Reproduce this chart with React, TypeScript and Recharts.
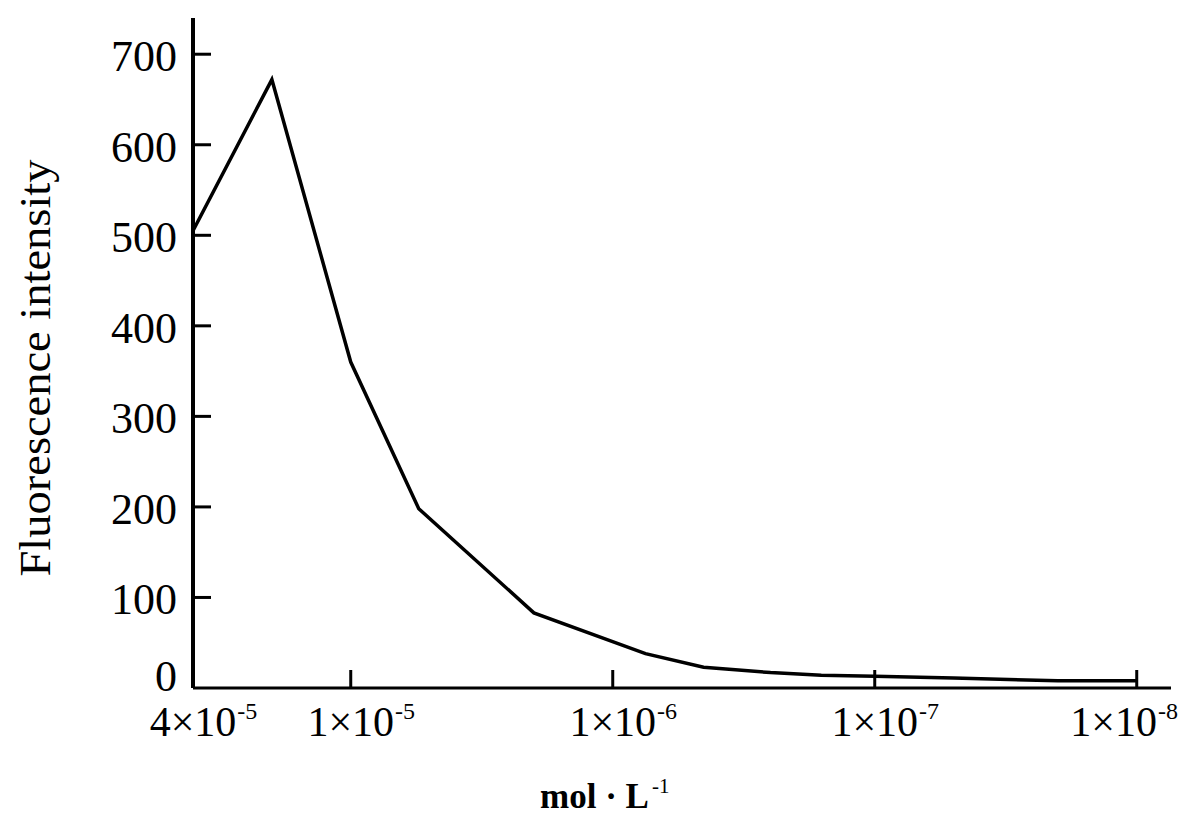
import { LineChart, Line, XAxis, YAxis } from "recharts"

// concentration in mol/L, plotted on a reversed log axis
const concentrations = [4e-5, 2e-5, 1e-5, 5.5e-6, 2e-6, 7.5e-7, 4.5e-7, 2.5e-7, 1.6e-7, 1e-7, 5e-8, 2e-8, 1e-8]
const intensities = [505, 672, 360, 198, 83, 38, 23, 17, 14, 13, 11, 8, 8]

const xTicks = [4e-5, 1e-5, 1e-6, 1e-7, 1e-8]
const yTicks = [0, 100, 200, 300, 400, 500, 600, 700]

const data = concentrations.map((c, i) => ({ c, v: intensities[i] }))

const FONT = '"Liberation Serif", "DejaVu Serif", "Times New Roman", serif'
const CHART_W = 1189

function XTick(props: any) {
  const { y, payload } = props
  const v = payload.value
  const exp = Math.floor(Math.log10(v) + 1e-9)
  const mant = Math.round(v / Math.pow(10, exp))
  const size = 42
  const half = (size * 2.064) / 2
  const supW = 26
  // keep the last label inside the picture
  const overflow = Math.max(0, props.x + half + supW - (CHART_W - 6))
  const x = props.x - overflow
  return (
    <g>
      <line x1={props.x} x2={props.x} y1={y} y2={y - 18} stroke="#000" strokeWidth={3} />
      <text x={x} y={y + 48} textAnchor="middle" fontSize={size} fontFamily={FONT} fill="#000">
        {mant}×10
      </text>
      <text x={x + half + 1} y={y + 31} textAnchor="start" fontSize={24} fontFamily={FONT} fill="#000">
        -{Math.abs(exp)}
      </text>
    </g>
  )
}

function YTick(props: any) {
  const { x, y, payload } = props
  const isZero = payload.value === 0
  return (
    <g>
      {!isZero && <line x1={x} x2={x + 18} y1={y} y2={y} stroke="#000" strokeWidth={3} />}
      <text
        x={x - 16}
        y={y + (isZero ? 3 : 17)}
        textAnchor="end"
        fontSize={44}
        fontFamily={FONT}
        fill="#000"
      >
        {payload.value}
      </text>
    </g>
  )
}

export default function App() {
  return (
    <div style={{ position: "absolute", left: 0, top: 0, width: CHART_W, height: 820, background: "#fff" }}>
      <LineChart
        width={CHART_W}
        height={820}
        data={data}
        margin={{ top: 18, right: 18, left: 93, bottom: 72 }}
      >
        <XAxis
          dataKey="c"
          type="number"
          scale="log"
          domain={[7.4e-9, 4e-5]}
          reversed
          allowDataOverflow
          ticks={xTicks}
          tick={<XTick />}
          tickLine={false}
          tickSize={0}
          tickMargin={0}
          height={60}
          interval={0}
          axisLine={{ stroke: "#000", strokeWidth: 3 }}
          label={{
            content: () => (
              <text x={540} y={808} fontSize={35} fontFamily={FONT} fontWeight="bold" fill="#000">
                mol · L
                <tspan dx={3} dy={-15} fontSize={21} fontWeight="normal">-1</tspan>
              </text>
            ),
          }}
        />
        <YAxis
          type="number"
          domain={[0, 740]}
          ticks={yTicks}
          tick={<YTick />}
          tickLine={false}
          tickSize={0}
          tickMargin={0}
          width={100}
          interval={0}
          axisLine={{ stroke: "#000", strokeWidth: 4 }}
          label={{
            content: () => (
              <text
                x={0}
                y={0}
                transform="translate(50 368) rotate(-90)"
                textAnchor="middle"
                fontSize={44}
                fontFamily={FONT}
                fill="#000"
                textLength={417}
                lengthAdjust="spacingAndGlyphs"
              >
                Fluorescence intensity
              </text>
            ),
          }}
        />
        <Line
          type="linear"
          dataKey="v"
          stroke="#000"
          strokeWidth={3.5}
          dot={false}
          isAnimationActive={false}
        />
      </LineChart>
    </div>
  )
}
